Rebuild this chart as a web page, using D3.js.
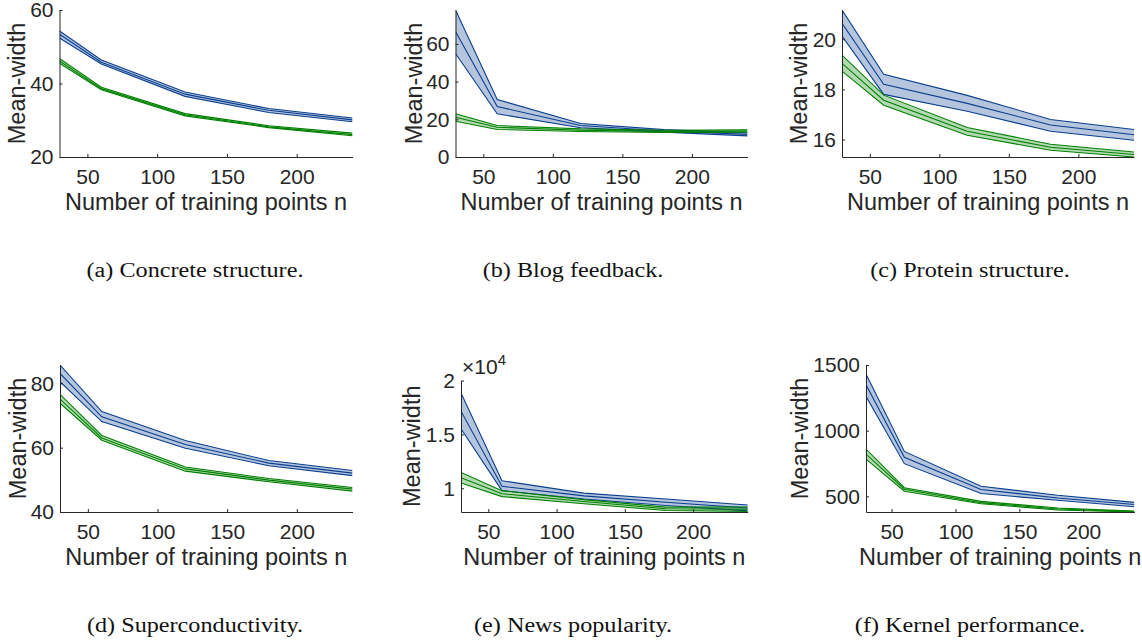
<!DOCTYPE html>
<html>
<head>
<meta charset="utf-8">
<script src="https://cdn.jsdelivr.net/npm/d3@7"></script>
<style>
  body { margin: 0; background: #fff; }
  svg { display: block; }
</style>
</head>
<body>
<svg id="chart" width="1142" height="643"></svg>
<script>
// training set sizes (x values shared by every panel)
var ns = [30, 60, 120, 180, 240];
var xTicks = [50, 100, 150, 200];

// each entry: [lower, mean, upper] mean-width at ns[i]
var concreteBlue  = [[52.4, 53.4, 54.3], [45.3, 45.8, 46.4], [36.5, 37.1, 37.7], [32.1, 32.7, 33.2], [29.6, 30.1, 30.6]];
var concreteGreen = [[45.5, 46.1, 46.8], [38.3, 38.6, 39.0], [31.2, 31.5, 31.8], [28.0, 28.2, 28.5], [25.8, 26.1, 26.5]];

var blogBlue  = [[54.9, 66.6, 78.0], [22.9, 26.8, 30.5], [15.5, 16.7, 17.8], [13.2, 13.8, 14.5], [11.2, 12.0, 12.9]];
var blogGreen = [[19.0, 21.1, 22.9], [14.6, 15.8, 16.7], [13.5, 14.2, 14.9], [13.0, 13.6, 14.2], [13.2, 13.8, 14.4]];

var proteinBlue  = [[20.13, 20.64, 21.17], [17.8, 18.2, 18.6], [17.13, 17.44, 17.76], [16.33, 16.58, 16.8], [15.97, 16.19, 16.4]];
var proteinGreen = [[18.73, 19.04, 19.37], [17.37, 17.57, 17.77], [16.17, 16.33, 16.48], [15.57, 15.69, 15.81], [15.3, 15.4, 15.5]];

var superBlue  = [[80.5, 83.1, 85.7], [68.1, 69.6, 71.2], [59.8, 61.0, 62.2], [54.4, 55.2, 56.0], [51.3, 52.1, 52.9]];
var superGreen = [[73.8, 75.1, 76.6], [62.3, 63.0, 63.8], [52.7, 53.4, 54.0], [49.4, 49.9, 50.4], [46.5, 47.1, 47.6]];

var newsBlue  = [[15520, 17150, 18840], [9780, 10180, 10700], [9000, 9300, 9550], [8400, 8700, 9000], [7900, 8170, 8450]];
var newsGreen = [[10490, 10980, 11470], [9230, 9500, 9780], [8560, 8770, 8950], [7940, 8100, 8250], [7860, 8050, 8270]];

var kernelBlue  = [[1261, 1349, 1432], [749, 797, 842], [522, 552, 577], [470, 488, 508], [421, 438, 454]];
var kernelGreen = [[784, 822, 860], [539, 554, 566], [444, 452, 462], [396, 404, 411], [381, 385, 388]];

// y limits and ticks per panel
var yDomains = [[20, 60], [0, 78], [15.3, 21.17], [40, 85.7], [7800, 20000], [381, 1500]];
var yTicks = [[20, 40, 60], [0, 20, 40, 60], [16, 18, 20], [40, 60, 80], [10000, 15000, 20000], [500, 1000, 1500]];
var captions = ['(a) Concrete structure.', '(b) Blog feedback.', '(c) Protein structure.',
                '(d) Superconductivity.', '(e) News popularity.', '(f) Kernel performance.'];

var blueData = [concreteBlue, blogBlue, proteinBlue, superBlue, newsBlue, kernelBlue];
var greenData = [concreteGreen, blogGreen, proteinGreen, superGreen, newsGreen, kernelGreen];

// axes boxes in pixels (layout only)
var boxes = [
    {left: 59.5, right: 352.5, top: 10,    bottom: 157, labelOff: 34.5, capX: 195},
    {left: 455.5, right: 747.5, top: 10,   bottom: 157, labelOff: 33.5, capX: 573},
    {left: 842,  right: 1134,  top: 10,    bottom: 157, labelOff: 35,   capX: 970},
    {left: 60,   right: 352.5, top: 365,   bottom: 512, labelOff: 34,   capX: 195},
    {left: 461,  right: 747.7, top: 380.5, bottom: 512, labelOff: 41,   capX: 573},
    {left: 866,  right: 1134.4, top: 365,  bottom: 512, labelOff: 58,   capX: 970}
];

var BLUE = '#0a3f8f', GREEN = '#008000';
var axisColor = '#262626';
var sans = 'Liberation Sans, Arial, Helvetica, sans-serif';

var svg = d3.select('#chart');
var defs = svg.append('defs');

boxes.forEach(function(p, k) {
    var x = d3.scaleLinear().domain([30, 240]).range([p.left, p.right]);
    var y = d3.scaleLinear().domain(yDomains[k]).range([p.bottom, p.top]);
    var g = svg.append('g');

    defs.append('clipPath').attr('id', 'clip' + k)
        .append('rect')
        .attr('x', p.left).attr('y', p.top)
        .attr('width', p.right - p.left).attr('height', p.bottom - p.top);

    var plot = g.append('g').attr('clip-path', 'url(#clip' + k + ')');

    var area = d3.area()
        .x(function(d, i) { return x(ns[i]); })
        .y0(function(d) { return y(d[0]); })
        .y1(function(d) { return y(d[2]); });

    function lineOf(j) {
        return d3.line()
            .x(function(d, i) { return x(ns[i]); })
            .y(function(d) { return y(d[j]); });
    }

    var series = [[blueData[k], BLUE], [greenData[k], GREEN]];
    series.forEach(function(s) {
        plot.append('path').datum(s[0])
            .attr('d', area)
            .attr('fill', s[1])
            .attr('fill-opacity', 0.3)
            .attr('stroke', 'none');
    });
    series.forEach(function(s) {
        [0, 1, 2].forEach(function(j) {
            plot.append('path').datum(s[0])
                .attr('d', lineOf(j))
                .attr('fill', 'none')
                .attr('stroke', s[1])
                .attr('stroke-width', 1.1);
        });
    });

    // axes (ticks point inward like matlab)
    var xa = g.append('g')
        .attr('transform', 'translate(0,' + p.bottom + ')')
        .call(d3.axisBottom(x).tickValues(xTicks).tickSizeInner(-3).tickSizeOuter(0).tickPadding(12));

    var fmt = d3.format('d');
    if (k == 4) fmt = function(d) { return d3.format('~g')(d / 10000); };
    var ya = g.append('g')
        .attr('transform', 'translate(' + p.left + ',0)')
        .call(d3.axisLeft(y).tickValues(yTicks[k]).tickFormat(fmt).tickSizeInner(-3).tickSizeOuter(0).tickPadding(6));

    [xa, ya].forEach(function(a) {
        a.attr('font-family', sans).attr('font-size', 21);
        a.select('.domain').attr('stroke', axisColor).attr('stroke-width', 1);
        a.selectAll('.tick line').attr('stroke', axisColor).attr('stroke-width', 1);
        a.selectAll('.tick text').attr('fill', axisColor);
    });

    g.append('text')
        .attr('x', (p.left + p.right) / 2)
        .attr('y', p.bottom + 53)
        .attr('text-anchor', 'middle')
        .attr('font-family', sans).attr('font-size', 23.5)
        .attr('fill', axisColor)
        .text('Number of training points n');

    g.append('text')
        .attr('transform', 'translate(' + (p.left - p.labelOff) + ',' + ((p.top + p.bottom) / 2) + ') rotate(-90)')
        .attr('text-anchor', 'middle')
        .attr('font-family', sans).attr('font-size', 23.5)
        .attr('fill', axisColor)
        .text('Mean-width');

    if (k == 4) {
        var ex = g.append('text')
            .attr('x', p.left + 1)
            .attr('y', p.top - 7)
            .attr('font-family', sans).attr('font-size', 21)
            .attr('fill', axisColor);
        ex.append('tspan').text('\u00d710');
        ex.append('tspan').attr('dy', -9).attr('font-size', 15).text('4');
    }

    // caption, stretched a little to get the wide latex look
    var cap = svg.append('text')
        .attr('x', p.capX)
        .attr('y', p.bottom + 120)
        .attr('text-anchor', 'middle')
        .attr('font-family', 'Liberation Serif, Times New Roman, serif')
        .attr('font-size', 20.5)
        .attr('fill', '#111')
        .text(captions[k]);
    var len = cap.node().getComputedTextLength();
    cap.attr('textLength', len * 1.18).attr('lengthAdjust', 'spacingAndGlyphs');
});
</script>
</body>
</html>
